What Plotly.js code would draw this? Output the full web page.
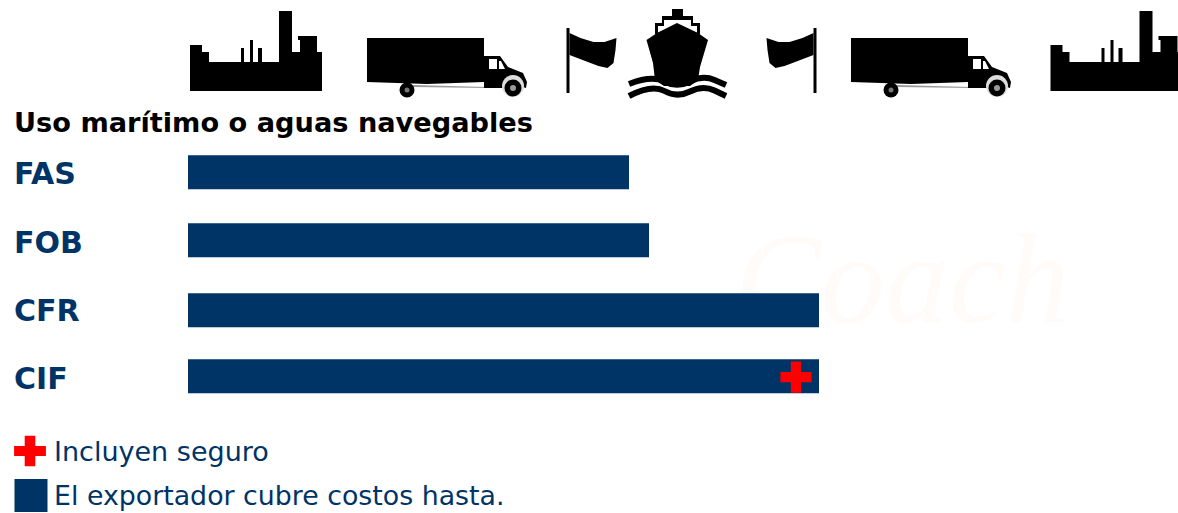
<!DOCTYPE html>
<html><head><meta charset="utf-8">
<script src="https://cdn.plot.ly/plotly-3.0.1.min.js"></script>
<style>html,body{margin:0;padding:0;background:#fff}#c{width:1178px;height:513px}</style></head>
<body><div id="c"></div>
<script>
const terms = ["FAS","FOB","CFR","CIF"];
const coverage = [441,461,631,631];
const insuredTerms = ["CIF"];
const insuredAt = [608];
const heading = "Uso marítimo o aguas navegables";
const legendInsurance = "Incluyen seguro";
const legendCost = "El exportador cubre costos hasta.";
const watermark = "Coach";
const navy = "#003366";
const W=1178,H=513;

const P=(x,y)=>(x/W).toFixed(5)+','+(1-y/H).toFixed(5);
function poly(d,ox,oy,mirror,ax,fill){
  const pts=d.map(p=>P((mirror?ax-p[0]:p[0])+ox,p[1]+oy));
  return {type:'path',xref:'paper',yref:'paper',path:'M'+pts.join('L')+'Z',fillcolor:fill||'#000',line:{width:0},layer:'above'};
}
function stroke(pts,w){
  let d='M'+P(pts[0][0],pts[0][1]);
  for(let i=1;i<pts.length-1;i++){
    const m=[(pts[i][0]+pts[i+1][0])/2,(pts[i][1]+pts[i+1][1])/2];
    d+='Q'+P(pts[i][0],pts[i][1])+' '+P(m[0],m[1]);
  }
  d+='L'+P(pts[pts.length-1][0],pts[pts.length-1][1]);
  return {type:'path',xref:'paper',yref:'paper',path:d,fillcolor:'rgba(0,0,0,0)',line:{width:w,color:'#000'},layer:'above'};
}
function circle(cx,cy,r,fill){
  return {type:'circle',xref:'paper',yref:'paper',x0:(cx-r)/W,x1:(cx+r)/W,y0:1-(cy+r)/H,y1:1-(cy-r)/H,fillcolor:fill,line:{width:0},layer:'above'};
}
const factory=[[0,45],[12,45],[12,52],[19,52],[19,62],[51,62],[51,48],[54,48],[54,62],[60,62],[60,40],[63,40],[63,62],[68,62],[68,48],[72,48],[72,62],[89,62],[89,11],[102,11],[102,52],[110,52],[110,40],[108,40],[108,36],[127,36],[127,52],[132,52],[132,91],[0,91]];
const box=[[0,38],[117,38],[117,81],[0,81]];
const under=[[0,80],[117,80],[117,82],[60,84],[0,82]];
const rail=[[46,85],[120,87],[120,88],[46,87]];
const cab=[[117,56],[133,56],[141,67],[156,73],[160,82],[159,88],[150,85],[138,88],[117,88]];
const win=[[122,59],[130,59],[130,69],[122,69]];
const win2=[[132,61],[134,61],[138,69],[132,69]];
function truck(ox){return [
  poly(box,ox,0),poly(under,ox,0),poly(rail,ox,0,false,0,'#999'),poly(cab,ox,0),
  poly(win,ox,0,false,0,'#fff'),poly(win2,ox,0,false,0,'#fff'),
  circle(ox+40,90,7.5,'#000'),circle(ox+40,90,2.5,'#777'),
  circle(ox+146,86,11,'#ddd'),circle(ox+146,88,8.5,'#000'),circle(ox+146,88,3,'#999')];}
const flag=[[3,33],[14,38],[27,42],[38,42],[50,38],[49,50],[47,63],[41,68],[32,66],[24,63],[3,55]];
const pole=[[0,28],[3,28],[3,93],[0,93]];
const shipOuter=[[672,9],[683,9],[683,16],[693,16],[693,23],[700,23],[700,34],[655,34],[655,23],[662,23],[662,16],[672,16]];
const shipGap=[[658,33],[658,26],[664,26],[664,20],[691,20],[691,26],[697,26],[697,33],[677,24]];
const hull=[[677,23],[698,33],[708,40],[700,67],[698,80],[690,86],[664,86],[655,80],[653,63],[646.5,40],[657,33]];
const shapes=[
 {type:'rect',xref:'paper',yref:'paper',x0:730/W,x1:1075/W,y0:1-350/H,y1:1-180/H,fillcolor:'rgba(0,0,0,0)',line:{width:0},layer:'below',
  label:{text:watermark,textposition:'middle center',font:{family:'Liberation Serif, serif',size:128,color:'#fffbf8',style:'italic'}}},
 poly(factory,190,0),
 ...truck(367),
 poly(pole,566.5,0),poly(flag,566.5,0),
 poly(shipOuter,0,0),poly(shipGap,0,0,false,0,'#fff'),poly(hull,0,0),
 stroke([[629,84],[652,75],[677,88],[703,75],[726,85]],6),
 stroke([[629,96],[652,84],[677,98],[703,85],[726,96]],6),
 poly(pole,0,0,true,816.5),poly(flag,0,0,true,816.5),
 ...truck(851),
 poly(factory,1050.5,0),
 poly([[-1,-3],[1,-3],[1,-1],[3,-1],[3,1],[1,1],[1,3],[-1,3],[-1,1],[-3,1],[-3,-1],[-1,-1]].map(p=>[p[0]*5.3,p[1]*5.1]),30,451,false,0,'#ff0000'),
 poly([[0,0],[33,0],[33,33],[0,33]],14.5,479,false,0,navy)
];
const anns=[
 {text:heading,x:12,y:123,color:'#000',size:27.2,bold:true},
 ...terms.map((t,i)=>({text:t,x:12,y:[173,242,310,378][i],color:navy,size:30,bold:true})),
 {text:legendInsurance,x:52,y:451,color:navy,size:27},
 {text:legendCost,x:52,y:495,color:navy,size:26.8}
].map(a=>({xref:'paper',yref:'paper',x:a.x/W,y:1-a.y/H,xanchor:'left',yanchor:'middle',showarrow:false,
  text:a.bold?'<b>'+a.text+'</b>':a.text,font:{family:'DejaVu Sans, Verdana, sans-serif',size:a.size,color:a.color}}));
const data=[
 {type:'bar',orientation:'h',y:terms,x:coverage,width:0.498,offset:[-0.252,-0.256,-0.229,-0.261],marker:{color:navy,line:{width:0}},hoverinfo:'skip',showlegend:false},
 {type:'scatter',mode:'markers',y:insuredTerms,x:insuredAt,marker:{symbol:'cross',color:'#ff0000',size:26,line:{width:0}},hoverinfo:'skip',showlegend:false}
];
Plotly.newPlot('c',data,{
 width:W,height:H,margin:{l:0,r:0,t:0,b:0,pad:0},paper_bgcolor:'#fff',plot_bgcolor:'rgba(0,0,0,0)',
 xaxis:{range:[-188,990],visible:false,fixedrange:true},
 yaxis:{type:'category',categoryorder:'array',categoryarray:terms,range:[4.993,-2.529],visible:false,fixedrange:true},
 shapes:shapes,annotations:anns,showlegend:false
},{displayModeBar:false,staticPlot:true});
</script></body></html>
